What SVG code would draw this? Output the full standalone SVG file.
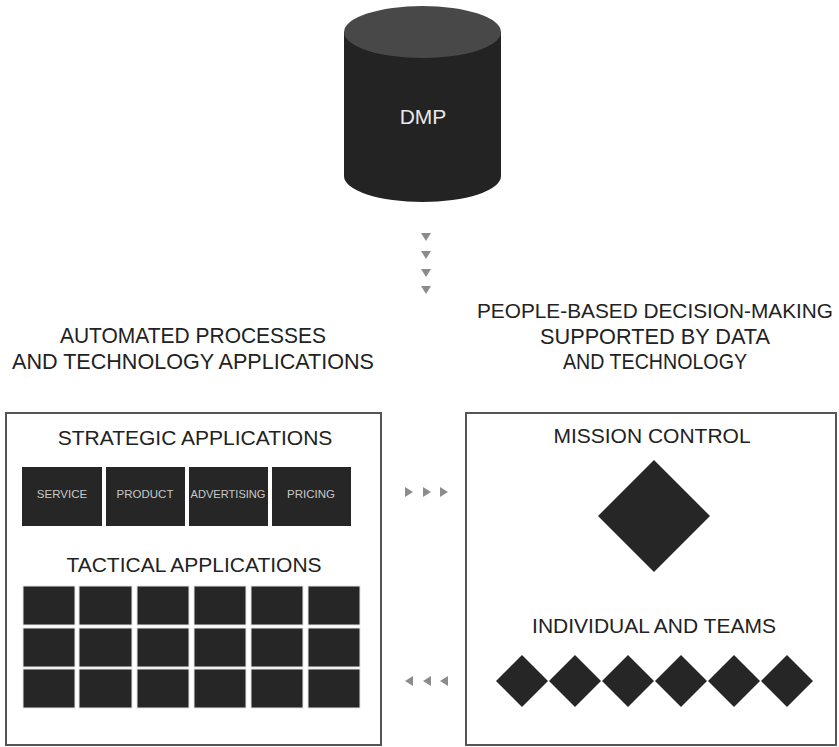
<svg xmlns="http://www.w3.org/2000/svg" width="839" height="747" viewBox="0 0 839 747">
  <style>
    .hdr { font-family: "Liberation Sans", Arial, sans-serif; font-size: 22.5px; fill: #222; text-anchor: middle; }
    .hdr-wide { font-size: 20.8px; }
    .ttl { font-family: "Liberation Sans", Arial, sans-serif; font-size: 21px; fill: #222; text-anchor: middle; }
    .lbl { font-family: "Liberation Sans", Arial, sans-serif; font-size: 11.5px; fill: #c8c8c8; text-anchor: middle; }
    .panel { fill: #ffffff; stroke: #555; stroke-width: 2; }
    .blk { fill: #262626; }
    .cell { fill: #262626; stroke: #e4e4e4; stroke-width: 1; }
    .tri { fill: #8c8c8c; }
  </style>

  <rect width="839" height="747" fill="#ffffff"/>

  <!-- Data management platform cylinder -->
  <g id="dmp">
    <path d="M344,32 L344,176 A78.5,26 0 0 0 501,176 L501,32 Z" fill="#232323"/>
    <ellipse cx="422.5" cy="32" rx="78.5" ry="26" fill="#484848"/>
    <text x="423" y="124" font-family="Liberation Sans, Arial, sans-serif" font-size="21" fill="#e8e8e8" text-anchor="middle">DMP</text>
  </g>

  <!-- Flow indicators -->
  <g id="connectors">
    <g class="tri">
      <polygon points="421,233 431,233 426,241"/>
      <polygon points="421,251 431,251 426,259"/>
      <polygon points="421,269 431,269 426,277"/>
      <polygon points="421,286 431,286 426,294"/>
    </g>
    <g class="tri">
      <polygon points="405,487 405,497 413,492"/>
      <polygon points="423,487 423,497 431,492"/>
      <polygon points="440,487 440,497 448,492"/>
    </g>
    <g class="tri">
      <polygon points="413,676 413,686 405,681"/>
      <polygon points="431,676 431,686 423,681"/>
      <polygon points="448,676 448,686 440,681"/>
    </g>
  </g>

  <!-- Column headings (narrow setting) -->
  <g id="heading-automated">
    <text class="hdr" x="193" y="343" textLength="266" lengthAdjust="spacingAndGlyphs">AUTOMATED PROCESSES</text>
    <text class="hdr" x="193" y="369" textLength="362" lengthAdjust="spacingAndGlyphs">AND TECHNOLOGY APPLICATIONS</text>
  </g>
  <g id="heading-people">
    <text class="hdr hdr-wide" x="655" y="318" textLength="356" lengthAdjust="spacingAndGlyphs">PEOPLE-BASED DECISION-MAKING</text>
    <text class="hdr" x="655" y="344" textLength="230" lengthAdjust="spacingAndGlyphs">SUPPORTED BY DATA</text>
    <text class="hdr" x="655" y="369" textLength="184" lengthAdjust="spacingAndGlyphs">AND TECHNOLOGY</text>
  </g>

  <!-- Left panel: applications -->
  <g id="applications">
    <rect class="panel" x="6" y="413" width="375" height="332"/>
    <text class="ttl" x="195" y="445">STRATEGIC APPLICATIONS</text>
    <g id="strategic">
      <rect class="blk" x="22" y="467" width="80" height="59"/>
      <rect class="blk" x="106" y="467" width="79" height="59"/>
      <rect class="blk" x="189" y="467" width="79" height="59"/>
      <rect class="blk" x="272" y="467" width="79" height="59"/>
      <text class="lbl" x="62" y="498">SERVICE</text>
      <text class="lbl" x="145" y="498">PRODUCT</text>
      <text class="lbl" x="228" y="498" textLength="75" lengthAdjust="spacingAndGlyphs">ADVERTISING</text>
      <text class="lbl" x="311" y="498">PRICING</text>
    </g>
    <text class="ttl" x="194" y="572">TACTICAL APPLICATIONS</text>
    <g id="tactical">
      <rect class="cell" x="23" y="586" width="52" height="39"/>
      <rect class="cell" x="79" y="586" width="53" height="39"/>
      <rect class="cell" x="137" y="586" width="52" height="39"/>
      <rect class="cell" x="194" y="586" width="52" height="39"/>
      <rect class="cell" x="251" y="586" width="52" height="39"/>
      <rect class="cell" x="308" y="586" width="52" height="39"/>
      <rect class="cell" x="23" y="628" width="52" height="39"/>
      <rect class="cell" x="79" y="628" width="53" height="39"/>
      <rect class="cell" x="137" y="628" width="52" height="39"/>
      <rect class="cell" x="194" y="628" width="52" height="39"/>
      <rect class="cell" x="251" y="628" width="52" height="39"/>
      <rect class="cell" x="308" y="628" width="52" height="39"/>
      <rect class="cell" x="23" y="669" width="52" height="39"/>
      <rect class="cell" x="79" y="669" width="53" height="39"/>
      <rect class="cell" x="137" y="669" width="52" height="39"/>
      <rect class="cell" x="194" y="669" width="52" height="39"/>
      <rect class="cell" x="251" y="669" width="52" height="39"/>
      <rect class="cell" x="308" y="669" width="52" height="39"/>
    </g>
  </g>

  <!-- Right panel: people -->
  <g id="people">
    <rect class="panel" x="466" y="413" width="370" height="332"/>
    <text class="ttl" x="652" y="443">MISSION CONTROL</text>
    <polygon class="blk" points="654,460 710,516 654,572 598,516"/>
    <text class="ttl" x="654" y="633">INDIVIDUAL AND TEAMS</text>
    <g id="teams" class="blk">
      <polygon points="522,655 548,681 522,707 496,681"/>
      <polygon points="575,655 601,681 575,707 549,681"/>
      <polygon points="628,655 654,681 628,707 602,681"/>
      <polygon points="681,655 707,681 681,707 655,681"/>
      <polygon points="734,655 760,681 734,707 708,681"/>
      <polygon points="787,655 813,681 787,707 761,681"/>
    </g>
  </g>
</svg>
